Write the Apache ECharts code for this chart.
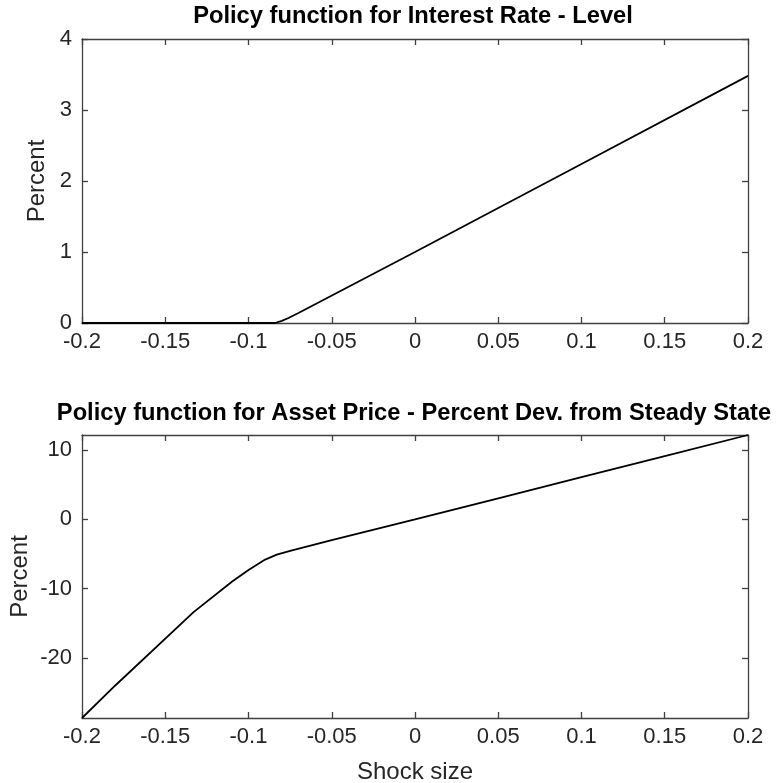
<!DOCTYPE html>
<html>
<head>
<meta charset="utf-8">
<script src="https://cdn.jsdelivr.net/npm/echarts@6/dist/echarts.min.js"></script>
<style>
  html, body { margin: 0; padding: 0; background: #ffffff; }
  #chart { width: 778px; height: 783px; }
</style>
</head>
<body>
<div id="chart"></div>
<script>
// Tick positions
const xTicks = [-0.2, -0.15, -0.1, -0.05, 0, 0.05, 0.1, 0.15, 0.2];
const rateTicks = [0, 1, 2, 3, 4];
const priceTicks = [-20, -10, 0, 10];

// Policy function: interest rate level (percent) by shock size
const rateShock = [-0.2, -0.15, -0.1, -0.084, -0.08, -0.076, -0.07, 0, 0.1, 0.2];
const rateLevel = [0, 0, 0, 0, 0.03, 0.07, 0.14, 1.0, 2.24, 3.48];

// Policy function: asset price, percent deviation from steady state
const priceShock = [-0.2, -0.18, -0.133, -0.11, -0.1, -0.09, -0.083, -0.075, -0.05, 0, 0.05, 0.1, 0.15, 0.2];
const priceDev = [-28.7, -24.0, -13.4, -9.0, -7.3, -5.8, -5.1, -4.55, -3.0, 0, 3.05, 6.1, 9.15, 12.2];

const FONT = "'Liberation Sans', Arial, Helvetica, sans-serif";
const INK = '#262626';
const BOX = '#404040';

const pairs = (xs, ys) => xs.map((x, i) => [x, ys[i]]);
const fmt = v => String(parseFloat(Number(v).toFixed(3)));

function boxAxis(type, gridIndex, position, ticks, range, withLabels, name, nameGap) {
  const ax = {
    type: 'value',
    gridIndex,
    position,
    min: range[0],
    max: range[1],
    axisLine: { show: true, onZero: false, lineStyle: { color: BOX, width: 1.3 } },
    axisTick: { show: true, inside: true, length: 6, customValues: ticks,
                lineStyle: { color: BOX, width: 1.3 } },
    axisLabel: { show: withLabels, customValues: ticks, formatter: fmt,
                 color: INK, fontFamily: FONT, fontSize: 22, margin: type === 'x' ? 8 : 10 },
    splitLine: { show: false }
  };
  if (name) {
    ax.name = name;
    ax.nameLocation = 'middle';
    ax.nameGap = nameGap;
    ax.nameMoveOverlap = false;
    ax.nameTextStyle = { color: INK, fontFamily: FONT, fontSize: 24 };
  }
  return ax;
}

const xRange = [-0.2, 0.2];
const rateRange = [0, 4];
const priceRange = [-28.7, 12.2];

const option = {
  backgroundColor: '#ffffff',
  animation: false,
  grid: [
    { left: 82, top: 39, width: 666, height: 284, outerBoundsMode: 'none', containLabel: false },
    { left: 82, top: 435, width: 666, height: 283, outerBoundsMode: 'none', containLabel: false }
  ],
  xAxis: [
    boxAxis('x', 0, 'bottom', xTicks, xRange, true),
    boxAxis('x', 0, 'top', xTicks, xRange, false),
    boxAxis('x', 1, 'bottom', xTicks, xRange, true, 'Shock size', 42),
    boxAxis('x', 1, 'top', xTicks, xRange, false)
  ],
  yAxis: [
    boxAxis('y', 0, 'left', rateTicks, rateRange, true, 'Percent', 33),
    boxAxis('y', 0, 'right', rateTicks, rateRange, false),
    boxAxis('y', 1, 'left', priceTicks, priceRange, true, 'Percent', 50),
    boxAxis('y', 1, 'right', priceTicks, priceRange, false)
  ],
  graphic: [
    { type: 'text', x: 413, y: 16,
      style: { text: 'Policy function for Interest Rate - Level', fill: '#000',
               font: 'bold 23.7px ' + FONT, align: 'center', verticalAlign: 'middle' } },
    { type: 'text', x: 414, y: 413,
      style: { text: 'Policy function for Asset Price - Percent Dev. from Steady State', fill: '#000',
               font: 'bold 23.7px ' + FONT, align: 'center', verticalAlign: 'middle' } }
  ],
  series: [
    { type: 'line', xAxisIndex: 0, yAxisIndex: 0, data: pairs(rateShock, rateLevel),
      showSymbol: false, lineStyle: { color: '#000', width: 1.8 }, clip: true },
    { type: 'line', xAxisIndex: 2, yAxisIndex: 2, data: pairs(priceShock, priceDev),
      showSymbol: false, lineStyle: { color: '#000', width: 1.8 }, clip: true }
  ]
};

const chart = echarts.init(document.getElementById('chart'), null, { renderer: 'canvas' });
chart.setOption(option);
</script>
</body>
</html>
